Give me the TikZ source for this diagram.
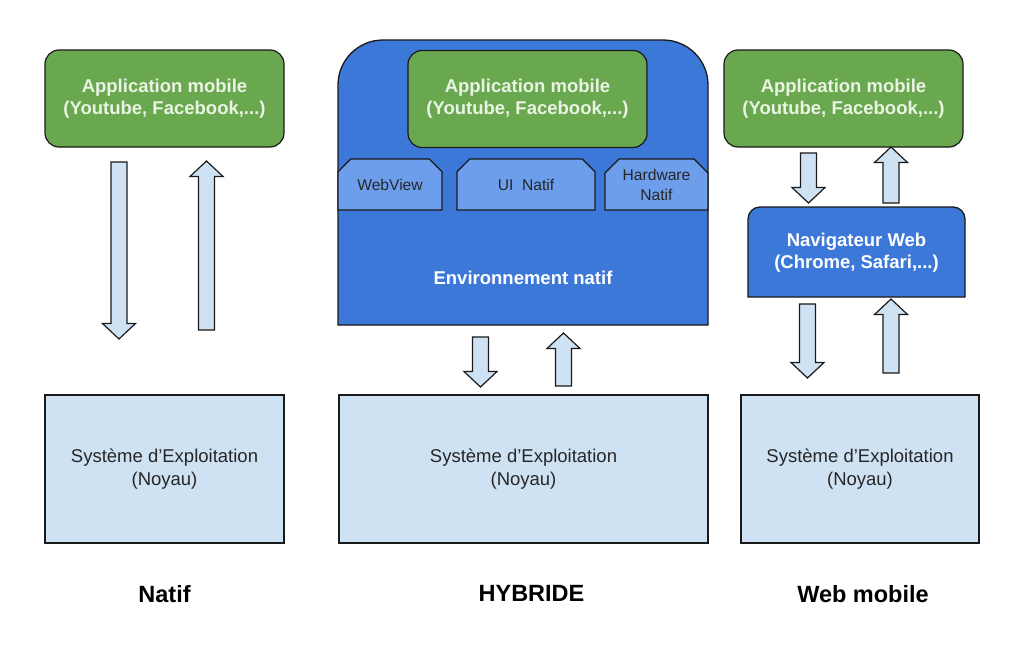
\documentclass[tikz,border=0pt]{standalone}
\usepackage{fontspec}
\setmainfont{Liberation Sans}
\usetikzlibrary{shapes.misc, positioning}
\definecolor{appgreen}{HTML}{6AA84F}
\definecolor{envblue}{HTML}{3C78D8}
\definecolor{tabblue}{HTML}{6D9EEB}
\definecolor{osblue}{HTML}{CFE2F3}
\definecolor{edge}{HTML}{1A1A1A}
\definecolor{applabel}{HTML}{EAF4E4}
\tikzset{
  appbox/.style={rectangle, draw=edge, line width=1.2pt, rounded corners=14pt, fill=appgreen, minimum width=239pt, minimum height=97pt, align=center, text=applabel, font=\fontsize{18.5}{22}\selectfont\bfseries},
  osbox/.style={rectangle, draw=edge, line width=1.2pt, fill=osblue, minimum height=148pt, align=center, text=black!85, font=\fontsize{18.5}{23}\selectfont},
  tabbox/.style={chamfered rectangle, chamfered rectangle corners={north west, north east}, chamfered rectangle sep=7pt, draw=edge, line width=1.2pt, fill=tabblue, minimum height=51pt, inner sep=0pt, align=center, text=black!85, font=\fontsize{15.6}{20}\selectfont},
  envbox/.style={draw=edge, line width=1.3pt, fill=envblue},
  whitetext/.style={text=white, align=center, font=\fontsize{18.5}{22}\selectfont\bfseries},
  title/.style={font=\fontsize{23.5}{28}\selectfont\bfseries},
  barrow/.style={draw=edge, line width=1.2pt, fill=osblue, line join=miter}
}
% block arrow: x, tail y, tip y
\newcommand{\blockarrow}[3]{%
  \pgfmathsetmacro{\hb}{(#3>#2) ? #3-15.5 : #3+15.5}
  \draw[barrow] (#1-8,#2) -- (#1-8,\hb) -- (#1-16.5,\hb) -- (#1,#3) -- (#1+16.5,\hb) -- (#1+8,\hb) -- (#1+8,#2) -- cycle;}
\begin{document}
\begin{tikzpicture}[x=1pt, y=-1pt]
  \fill[white] (0,0) rectangle (1024,645);
  \useasboundingbox (0,0) rectangle (1024,645);

  % Natif
  \node[appbox] (natApp) at (164.5,98.5) {Application mobile\\(Youtube, Facebook,...)};
  \node[osbox, minimum width=239pt] (natOS) at (164.5,469) {Système d’Exploitation\\(Noyau)};
  \node[title, below=38pt of natOS] (natTitle) {Natif};
  \blockarrow{119}{162}{339}
  \blockarrow{206.5}{330}{161}

  % Hybride
  \draw[envbox] (338,200) [rounded corners=45pt] -- (338,40) -- (708,40) -- (708,200) [sharp corners] -- (708,325) -- (338,325) -- cycle;
  \node[appbox] (hybApp) at (527.5,99) {Application mobile\\(Youtube, Facebook,...)};
  \node[tabbox, minimum width=104pt] (webview) at (390,184.5) {WebView};
  \node[tabbox, minimum width=138pt] (uiNatif) at (526,184.5) {UI\ \ Natif};
  \node[tabbox, minimum width=103pt] (hwNatif) at (656.5,184.5) {Hardware\\Natif};
  \node[whitetext] (envLabel) at (523,278) {Environnement natif};
  \node[osbox, minimum width=369pt] (hybOS) at (523.5,469) {Système d’Exploitation\\(Noyau)};
  \node[title, below=38pt of hybOS, xshift=8pt] (hybTitle) {HYBRIDE};
  \blockarrow{480.5}{337}{387}
  \blockarrow{563.5}{386}{333}

  % Web mobile
  \node[appbox] (webApp) at (843.5,98.5) {Application mobile\\(Youtube, Facebook,...)};
  \draw[envbox] (748,250) [rounded corners=12pt] -- (748,207) -- (965,207) -- (965,250) [sharp corners] -- (965,297) -- (748,297) -- cycle;
  \node[whitetext] (navLabel) at (856.5,253) {Navigateur Web\\(Chrome, Safari,...)};
  \node[osbox, minimum width=238pt] (webOS) at (860,469) {Système d’Exploitation\\(Noyau)};
  \node[title, below=38pt of webOS, xshift=3pt] (webTitle) {Web mobile};
  \blockarrow{808.5}{153}{203}
  \blockarrow{891}{203}{147}
  \blockarrow{807.5}{304}{378}
  \blockarrow{891}{373}{299}
\end{tikzpicture}
\end{document}
